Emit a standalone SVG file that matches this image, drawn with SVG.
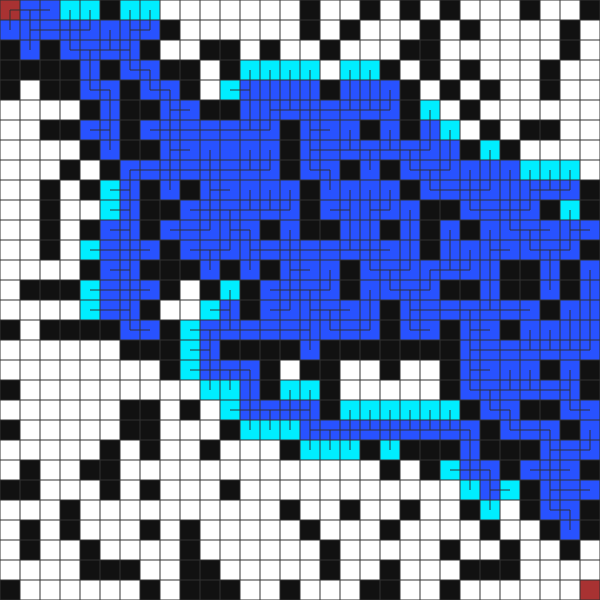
<svg xmlns="http://www.w3.org/2000/svg" width="600" height="600" viewBox="0 0 600 600">
<style>
.k{fill:#111111}
.b{fill:#2852ff}
.c{fill:#00eeff}
.r{fill:#a83232}
.grid{fill:none;stroke:#333333;stroke-width:1}
.tree{fill:none;stroke:#333333;stroke-width:1.5;stroke-opacity:0.65}
</style>
<rect width="600" height="600" fill="#ffffff"/>
<g id="cells">
<g transform="translate(0,0)">
<rect class="r" x="0" width="20" height="20"/><rect class="b" x="20" width="40" height="20"/><rect class="c" x="60" width="40" height="20"/><rect class="k" x="100" width="20" height="20"/><rect class="c" x="120" width="40" height="20"/><rect class="k" x="300" width="20" height="20"/><rect class="k" x="360" width="20" height="20"/><rect class="k" x="400" width="20" height="20"/><rect class="k" x="440" width="20" height="20"/><rect class="k" x="520" width="20" height="20"/><rect class="k" x="580" width="20" height="20"/>
</g>
<g transform="translate(0,20)">
<rect class="b" x="0" width="160" height="20"/><rect class="k" x="160" width="20" height="20"/><rect class="k" x="300" width="20" height="20"/><rect class="k" x="340" width="20" height="20"/><rect class="k" x="420" width="20" height="20"/><rect class="k" x="460" width="20" height="20"/><rect class="k" x="560" width="20" height="20"/>
</g>
<g transform="translate(0,40)">
<rect class="k" x="0" width="20" height="20"/><rect class="b" x="20" width="20" height="20"/><rect class="k" x="40" width="20" height="20"/><rect class="b" x="60" width="80" height="20"/><rect class="k" x="140" width="20" height="20"/><rect class="k" x="200" width="40" height="20"/><rect class="k" x="260" width="20" height="20"/><rect class="k" x="320" width="20" height="20"/><rect class="k" x="400" width="40" height="20"/><rect class="k" x="560" width="20" height="20"/>
</g>
<g transform="translate(0,60)">
<rect class="k" x="0" width="80" height="20"/><rect class="b" x="80" width="20" height="20"/><rect class="k" x="100" width="20" height="20"/><rect class="b" x="120" width="40" height="20"/><rect class="k" x="160" width="40" height="20"/><rect class="k" x="220" width="20" height="20"/><rect class="c" x="240" width="80" height="20"/><rect class="c" x="340" width="40" height="20"/><rect class="k" x="380" width="20" height="20"/><rect class="k" x="420" width="20" height="20"/><rect class="k" x="460" width="20" height="20"/><rect class="k" x="540" width="20" height="20"/>
</g>
<g transform="translate(0,80)">
<rect class="k" x="0" width="20" height="20"/><rect class="k" x="40" width="40" height="20"/><rect class="b" x="80" width="40" height="20"/><rect class="k" x="120" width="20" height="20"/><rect class="b" x="140" width="40" height="20"/><rect class="k" x="180" width="20" height="20"/><rect class="c" x="220" width="20" height="20"/><rect class="b" x="240" width="80" height="20"/><rect class="k" x="320" width="20" height="20"/><rect class="b" x="340" width="60" height="20"/><rect class="k" x="400" width="20" height="20"/><rect class="k" x="440" width="20" height="20"/><rect class="k" x="480" width="20" height="20"/><rect class="k" x="540" width="20" height="20"/>
</g>
<g transform="translate(0,100)">
<rect class="k" x="80" width="20" height="20"/><rect class="b" x="100" width="20" height="20"/><rect class="k" x="120" width="40" height="20"/><rect class="b" x="160" width="40" height="20"/><rect class="k" x="200" width="40" height="20"/><rect class="b" x="240" width="160" height="20"/><rect class="k" x="400" width="20" height="20"/><rect class="c" x="420" width="20" height="20"/><rect class="k" x="460" width="20" height="20"/>
</g>
<g transform="translate(0,120)">
<rect class="k" x="40" width="40" height="20"/><rect class="b" x="80" width="40" height="20"/><rect class="k" x="120" width="20" height="20"/><rect class="b" x="140" width="140" height="20"/><rect class="k" x="280" width="20" height="20"/><rect class="b" x="300" width="60" height="20"/><rect class="k" x="360" width="20" height="20"/><rect class="b" x="380" width="20" height="20"/><rect class="k" x="400" width="20" height="20"/><rect class="b" x="420" width="20" height="20"/><rect class="c" x="440" width="20" height="20"/><rect class="k" x="480" width="20" height="20"/><rect class="k" x="520" width="40" height="20"/>
</g>
<g transform="translate(0,140)">
<rect class="k" x="80" width="20" height="20"/><rect class="b" x="100" width="20" height="20"/><rect class="k" x="120" width="40" height="20"/><rect class="b" x="160" width="120" height="20"/><rect class="k" x="280" width="20" height="20"/><rect class="b" x="300" width="160" height="20"/><rect class="k" x="460" width="20" height="20"/><rect class="c" x="480" width="20" height="20"/><rect class="k" x="500" width="20" height="20"/>
</g>
<g transform="translate(0,160)">
<rect class="k" x="60" width="20" height="20"/><rect class="k" x="100" width="20" height="20"/><rect class="b" x="120" width="160" height="20"/><rect class="k" x="280" width="20" height="20"/><rect class="b" x="300" width="40" height="20"/><rect class="k" x="340" width="20" height="20"/><rect class="b" x="360" width="20" height="20"/><rect class="k" x="380" width="20" height="20"/><rect class="b" x="400" width="120" height="20"/><rect class="c" x="520" width="60" height="20"/>
</g>
<g transform="translate(0,180)">
<rect class="k" x="40" width="20" height="20"/><rect class="k" x="80" width="20" height="20"/><rect class="c" x="100" width="20" height="20"/><rect class="b" x="120" width="20" height="20"/><rect class="k" x="140" width="20" height="20"/><rect class="b" x="160" width="20" height="20"/><rect class="k" x="180" width="20" height="20"/><rect class="b" x="200" width="100" height="20"/><rect class="k" x="300" width="20" height="20"/><rect class="b" x="320" width="80" height="20"/><rect class="k" x="400" width="20" height="20"/><rect class="b" x="420" width="160" height="20"/><rect class="k" x="580" width="20" height="20"/>
</g>
<g transform="translate(0,200)">
<rect class="k" x="40" width="20" height="20"/><rect class="c" x="100" width="20" height="20"/><rect class="b" x="120" width="20" height="20"/><rect class="k" x="140" width="40" height="20"/><rect class="b" x="180" width="120" height="20"/><rect class="k" x="300" width="20" height="20"/><rect class="b" x="320" width="100" height="20"/><rect class="k" x="420" width="40" height="20"/><rect class="b" x="460" width="80" height="20"/><rect class="k" x="540" width="20" height="20"/><rect class="c" x="560" width="20" height="20"/><rect class="k" x="580" width="20" height="20"/>
</g>
<g transform="translate(0,220)">
<rect class="k" x="40" width="20" height="20"/><rect class="k" x="80" width="20" height="20"/><rect class="b" x="100" width="40" height="20"/><rect class="k" x="140" width="20" height="20"/><rect class="b" x="160" width="100" height="20"/><rect class="k" x="260" width="20" height="20"/><rect class="b" x="280" width="20" height="20"/><rect class="k" x="300" width="40" height="20"/><rect class="b" x="340" width="40" height="20"/><rect class="k" x="380" width="20" height="20"/><rect class="b" x="400" width="20" height="20"/><rect class="k" x="420" width="20" height="20"/><rect class="b" x="440" width="20" height="20"/><rect class="k" x="460" width="20" height="20"/><rect class="b" x="480" width="120" height="20"/>
</g>
<g transform="translate(0,240)">
<rect class="k" x="40" width="20" height="20"/><rect class="c" x="80" width="20" height="20"/><rect class="b" x="100" width="60" height="20"/><rect class="k" x="160" width="20" height="20"/><rect class="b" x="180" width="240" height="20"/><rect class="k" x="420" width="20" height="20"/><rect class="b" x="440" width="140" height="20"/><rect class="k" x="580" width="20" height="20"/>
</g>
<g transform="translate(0,260)">
<rect class="k" x="80" width="20" height="20"/><rect class="b" x="100" width="40" height="20"/><rect class="k" x="140" width="60" height="20"/><rect class="b" x="200" width="20" height="20"/><rect class="k" x="220" width="20" height="20"/><rect class="b" x="240" width="20" height="20"/><rect class="k" x="260" width="20" height="20"/><rect class="b" x="280" width="60" height="20"/><rect class="k" x="340" width="20" height="20"/><rect class="b" x="360" width="140" height="20"/><rect class="k" x="500" width="40" height="20"/><rect class="b" x="540" width="20" height="20"/><rect class="k" x="560" width="20" height="20"/><rect class="b" x="580" width="20" height="20"/>
</g>
<g transform="translate(0,280)">
<rect class="k" x="20" width="60" height="20"/><rect class="c" x="80" width="20" height="20"/><rect class="b" x="100" width="60" height="20"/><rect class="k" x="160" width="20" height="20"/><rect class="k" x="200" width="20" height="20"/><rect class="c" x="220" width="20" height="20"/><rect class="k" x="240" width="20" height="20"/><rect class="b" x="260" width="80" height="20"/><rect class="k" x="340" width="20" height="20"/><rect class="b" x="360" width="80" height="20"/><rect class="k" x="440" width="40" height="20"/><rect class="b" x="480" width="20" height="20"/><rect class="k" x="500" width="40" height="20"/><rect class="b" x="540" width="20" height="20"/><rect class="k" x="560" width="20" height="20"/><rect class="b" x="580" width="20" height="20"/>
</g>
<g transform="translate(0,300)">
<rect class="c" x="80" width="20" height="20"/><rect class="b" x="100" width="40" height="20"/><rect class="k" x="140" width="20" height="20"/><rect class="c" x="200" width="20" height="20"/><rect class="b" x="220" width="20" height="20"/><rect class="k" x="240" width="20" height="20"/><rect class="b" x="260" width="120" height="20"/><rect class="k" x="380" width="20" height="20"/><rect class="b" x="400" width="140" height="20"/><rect class="k" x="540" width="20" height="20"/><rect class="b" x="560" width="40" height="20"/>
</g>
<g transform="translate(0,320)">
<rect class="k" x="0" width="20" height="20"/><rect class="k" x="40" width="80" height="20"/><rect class="b" x="120" width="40" height="20"/><rect class="k" x="160" width="20" height="20"/><rect class="c" x="180" width="20" height="20"/><rect class="b" x="200" width="180" height="20"/><rect class="k" x="380" width="20" height="20"/><rect class="b" x="400" width="40" height="20"/><rect class="k" x="440" width="20" height="20"/><rect class="b" x="460" width="40" height="20"/><rect class="k" x="500" width="20" height="20"/><rect class="b" x="520" width="80" height="20"/>
</g>
<g transform="translate(0,340)">
<rect class="k" x="120" width="60" height="20"/><rect class="c" x="180" width="20" height="20"/><rect class="b" x="200" width="20" height="20"/><rect class="k" x="220" width="80" height="20"/><rect class="b" x="300" width="20" height="20"/><rect class="k" x="320" width="140" height="20"/><rect class="b" x="460" width="140" height="20"/>
</g>
<g transform="translate(0,360)">
<rect class="k" x="160" width="20" height="20"/><rect class="c" x="180" width="20" height="20"/><rect class="b" x="200" width="60" height="20"/><rect class="k" x="260" width="20" height="20"/><rect class="k" x="300" width="40" height="20"/><rect class="k" x="380" width="20" height="20"/><rect class="k" x="440" width="20" height="20"/><rect class="b" x="460" width="80" height="20"/><rect class="k" x="540" width="20" height="20"/><rect class="b" x="560" width="20" height="20"/><rect class="k" x="580" width="20" height="20"/>
</g>
<g transform="translate(0,380)">
<rect class="k" x="0" width="20" height="20"/><rect class="c" x="200" width="40" height="20"/><rect class="b" x="240" width="20" height="20"/><rect class="k" x="260" width="20" height="20"/><rect class="c" x="280" width="40" height="20"/><rect class="k" x="320" width="20" height="20"/><rect class="k" x="440" width="20" height="20"/><rect class="b" x="460" width="120" height="20"/><rect class="k" x="580" width="20" height="20"/>
</g>
<g transform="translate(0,400)">
<rect class="k" x="120" width="40" height="20"/><rect class="k" x="180" width="20" height="20"/><rect class="c" x="220" width="20" height="20"/><rect class="b" x="240" width="80" height="20"/><rect class="k" x="320" width="20" height="20"/><rect class="c" x="340" width="120" height="20"/><rect class="k" x="460" width="20" height="20"/><rect class="b" x="480" width="40" height="20"/><rect class="k" x="520" width="40" height="20"/><rect class="b" x="560" width="40" height="20"/>
</g>
<g transform="translate(0,420)">
<rect class="k" x="0" width="20" height="20"/><rect class="k" x="120" width="40" height="20"/><rect class="k" x="220" width="20" height="20"/><rect class="c" x="240" width="60" height="20"/><rect class="b" x="300" width="180" height="20"/><rect class="k" x="480" width="20" height="20"/><rect class="b" x="500" width="60" height="20"/><rect class="k" x="560" width="20" height="20"/><rect class="b" x="580" width="20" height="20"/>
</g>
<g transform="translate(0,440)">
<rect class="k" x="100" width="20" height="20"/><rect class="k" x="140" width="20" height="20"/><rect class="k" x="200" width="20" height="20"/><rect class="k" x="280" width="20" height="20"/><rect class="c" x="300" width="60" height="20"/><rect class="k" x="360" width="20" height="20"/><rect class="c" x="380" width="20" height="20"/><rect class="k" x="400" width="60" height="20"/><rect class="b" x="460" width="20" height="20"/><rect class="k" x="480" width="60" height="20"/><rect class="b" x="540" width="60" height="20"/>
</g>
<g transform="translate(0,460)">
<rect class="k" x="20" width="20" height="20"/><rect class="k" x="80" width="40" height="20"/><rect class="k" x="380" width="20" height="20"/><rect class="k" x="420" width="20" height="20"/><rect class="c" x="440" width="20" height="20"/><rect class="b" x="460" width="40" height="20"/><rect class="k" x="500" width="20" height="20"/><rect class="b" x="520" width="60" height="20"/><rect class="k" x="580" width="20" height="20"/>
</g>
<g transform="translate(0,480)">
<rect class="k" x="0" width="40" height="20"/><rect class="k" x="100" width="20" height="20"/><rect class="k" x="140" width="20" height="20"/><rect class="k" x="220" width="20" height="20"/><rect class="c" x="460" width="20" height="20"/><rect class="b" x="480" width="20" height="20"/><rect class="c" x="500" width="20" height="20"/><rect class="k" x="520" width="20" height="20"/><rect class="b" x="540" width="60" height="20"/>
</g>
<g transform="translate(0,500)">
<rect class="k" x="60" width="20" height="20"/><rect class="k" x="280" width="20" height="20"/><rect class="k" x="340" width="20" height="20"/><rect class="k" x="400" width="20" height="20"/><rect class="k" x="460" width="20" height="20"/><rect class="c" x="480" width="20" height="20"/><rect class="k" x="520" width="20" height="20"/><rect class="b" x="540" width="40" height="20"/><rect class="k" x="580" width="20" height="20"/>
</g>
<g transform="translate(0,520)">
<rect class="k" x="20" width="20" height="20"/><rect class="k" x="60" width="20" height="20"/><rect class="k" x="140" width="20" height="20"/><rect class="k" x="180" width="20" height="20"/><rect class="k" x="300" width="20" height="20"/><rect class="k" x="380" width="20" height="20"/><rect class="k" x="480" width="20" height="20"/><rect class="k" x="540" width="20" height="20"/><rect class="b" x="560" width="20" height="20"/><rect class="k" x="580" width="20" height="20"/>
</g>
<g transform="translate(0,540)">
<rect class="k" x="20" width="20" height="20"/><rect class="k" x="80" width="20" height="20"/><rect class="k" x="180" width="20" height="20"/><rect class="k" x="320" width="20" height="20"/><rect class="k" x="440" width="20" height="20"/><rect class="k" x="500" width="20" height="20"/><rect class="k" x="560" width="20" height="20"/>
</g>
<g transform="translate(0,560)">
<rect class="k" x="80" width="60" height="20"/><rect class="k" x="180" width="40" height="20"/><rect class="k" x="320" width="20" height="20"/><rect class="k" x="380" width="20" height="20"/><rect class="k" x="460" width="60" height="20"/>
</g>
<g transform="translate(0,580)">
<rect class="k" x="0" width="20" height="20"/><rect class="k" x="140" width="20" height="20"/><rect class="k" x="180" width="60" height="20"/><rect class="k" x="280" width="20" height="20"/><rect class="k" x="360" width="40" height="20"/><rect class="k" x="440" width="20" height="20"/><rect class="r" x="580" width="20" height="20"/>
</g>
</g>
<path id="gridlines" class="grid" d="M0 0V600M20 0V600M40 0V600M60 0V600M80 0V600M100 0V600M120 0V600M140 0V600M160 0V600M180 0V600M200 0V600M220 0V600M240 0V600M260 0V600M280 0V600M300 0V600M320 0V600M340 0V600M360 0V600M380 0V600M400 0V600M420 0V600M440 0V600M460 0V600M480 0V600M500 0V600M520 0V600M540 0V600M560 0V600M580 0V600M600 0V600M0 0H600M0 20H600M0 40H600M0 60H600M0 80H600M0 100H600M0 120H600M0 140H600M0 160H600M0 180H600M0 200H600M0 220H600M0 240H600M0 260H600M0 280H600M0 300H600M0 320H600M0 340H600M0 360H600M0 380H600M0 400H600M0 420H600M0 440H600M0 460H600M0 480H600M0 500H600M0 520H600M0 540H600M0 560H600M0 580H600M0 600H600"/>
<g id="connectors">
<path class="tree" d="M10 10H50M30 30H90M130 30H150M70 50H130M130 70H150M90 90H110M150 90H170M230 90H250M170 110H190M270 110H390M90 130H110M150 130H270M310 130H330M170 150H190M310 150H430M130 170H270M310 170H330M410 170H450M110 190H130M210 190H230M430 190H490M530 190H570M110 210H130M190 210H290M330 210H350M370 210H390M470 210H530M110 230H130M170 230H210M230 230H250M510 230H550M570 230H590M90 250H150M190 250H230M250 250H390M490 250H510M530 250H570M110 270H130M290 270H310M370 270H410M430 270H470M90 290H150M270 290H330M390 290H430M90 310H130M210 310H230M270 310H290M310 310H350M410 310H530M130 330H150M190 330H310M330 330H370M410 330H430M470 330H490M190 350H210M470 350H590M190 370H250M470 370H490M470 390H570M230 410H310M490 410H510M570 410H590M310 430H470M510 430H550M550 450H590M450 470H490M530 470H570M490 490H510M550 490H590M550 510H570"/>
<path class="tree" d="M10 10V30M30 10V50M70 10V50M90 10V30M90 50V90M110 30V50M110 90V150M130 10V70M130 170V330M150 10V30M150 70V90M170 90V190M210 150V230M210 250V270M210 330V390M230 210V250M230 290V330M230 370V390M250 70V130M250 150V170M250 190V210M250 230V270M250 370V430M270 70V130M270 150V170M270 190V210M270 410V430M290 70V110M290 190V210M290 230V310M290 390V430M310 70V170M310 290V350M310 390V450M330 170V190M330 270V290M330 310V330M330 430V450M350 70V110M350 130V150M350 190V250M350 410V450M370 70V110M370 150V170M370 190V270M370 290V330M370 410V430M390 90V110M390 130V150M390 190V210M390 270V290M390 410V450M410 150V170M410 210V270M410 290V330M410 410V430M430 110V150M430 170V190M430 270V290M430 410V430M450 130V170M450 230V270M450 410V430M470 170V210M470 250V270M470 310V390M470 430V490M490 150V190M490 230V310M490 390V410M490 470V510M510 170V230M510 370V390M510 410V430M530 170V210M530 230V250M530 330V350M530 370V390M550 170V190M550 250V290M550 330V350M550 430V510M570 170V190M570 210V250M570 310V350M570 370V410M570 510V530M590 270V350M590 430V450"/>
</g>
</svg>
